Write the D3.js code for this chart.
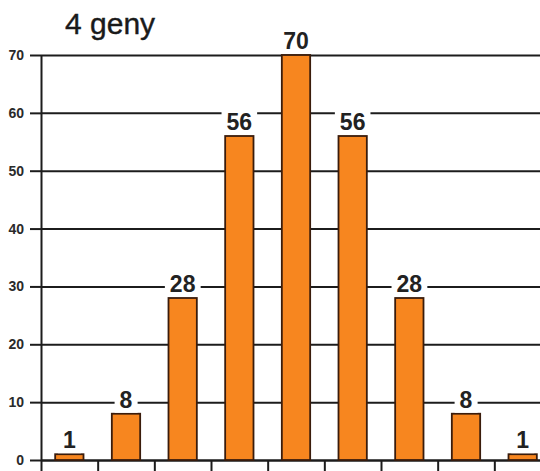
<!DOCTYPE html>
<html>
<head>
<meta charset="utf-8">
<script src="https://cdn.jsdelivr.net/npm/d3@7"></script>
<style>
  html, body { margin: 0; padding: 0; background: #fff; }
  svg { display: block; }
</style>
</head>
<body>
<svg id="chart" width="540" height="471"></svg>
<script>
// Number of dominant alleles (0–8) for four genes and the count of genotype combinations
const categories = ["0", "1", "2", "3", "4", "5", "6", "7", "8"];
const counts = [1, 8, 28, 56, 70, 56, 28, 8, 1];
const yTicks = [0, 10, 20, 30, 40, 50, 60, 70];
const title = "4 geny";

const svg = d3.select("#chart");
const plotLeft = 41, plotRight = 551, plotTop = 55, plotBottom = 460;

const x = d3.scaleBand()
  .domain(categories)
  .range([plotLeft, plotRight])
  .paddingInner(0.5)
  .paddingOuter(0.25);

const y = d3.scaleLinear().domain([0, 70]).range([plotBottom, plotTop]);

// boundaries between categories for the bottom tick marks
const xEdge = d3.scaleLinear().domain([0, categories.length]).range([plotLeft, plotRight]);

const ink = "#1c1c1c";

// horizontal grid lines
const grid = svg.append("g")
  .attr("transform", `translate(${plotLeft},0)`)
  .call(d3.axisLeft(y).tickValues(yTicks).tickSize(-(plotRight - plotLeft)).tickFormat(""));
grid.select(".domain").remove();
grid.selectAll("line").attr("stroke", ink).attr("stroke-width", 2);

// left axis with outward ticks and labels
const yAxis = svg.append("g")
  .attr("transform", `translate(${plotLeft},0)`)
  .call(d3.axisLeft(y).tickValues(yTicks).tickSize(11).tickSizeOuter(0).tickPadding(6));
yAxis.select(".domain").attr("stroke", ink).attr("stroke-width", 2);
yAxis.selectAll("line").attr("stroke", ink).attr("stroke-width", 2);
yAxis.selectAll("text")
  .attr("fill", "#2a2a2a")
  .style("font-family", "'Liberation Sans', Arial, sans-serif")
  .style("font-weight", "bold")
  .style("font-size", "14px");

// bottom axis: only tick marks at category boundaries
const xAxis = svg.append("g")
  .attr("transform", `translate(0,${plotBottom})`)
  .call(d3.axisBottom(xEdge).tickValues(d3.range(categories.length + 1)).tickSize(11).tickSizeOuter(0).tickFormat(""));
xAxis.select(".domain").attr("stroke", ink).attr("stroke-width", 2);
xAxis.selectAll("line").attr("stroke", ink).attr("stroke-width", 2);

// bars
svg.append("g")
  .selectAll("rect")
  .data(counts)
  .join("rect")
  .attr("x", (d, i) => x(categories[i]))
  .attr("y", d => y(d))
  .attr("width", x.bandwidth())
  .attr("height", d => plotBottom - y(d))
  .attr("fill", "#f7861f")
  .attr("stroke", "#3a1c0c")
  .attr("stroke-width", 1.8);

// value labels on white plates
const labels = svg.append("g")
  .selectAll("g")
  .data(counts)
  .join("g");

labels.append("text")
  .attr("x", (d, i) => x(categories[i]) + x.bandwidth() / 2)
  .attr("y", d => y(d) - 6)
  .attr("text-anchor", "middle")
  .attr("fill", "#222")
  .style("font-family", "'Liberation Sans', Arial, sans-serif")
  .style("font-weight", "bold")
  .style("font-size", "23px")
  .text(d => d);

labels.each(function () {
  const g = d3.select(this);
  const t = g.select("text");
  const bb = t.node().getBBox();
  const base = +t.attr("y");
  g.insert("rect", "text")
    .attr("x", bb.x - 5)
    .attr("y", base - 21)
    .attr("width", bb.width + 10)
    .attr("height", 26)
    .attr("fill", "#fff");
});

// title
svg.append("text")
  .attr("x", 65)
  .attr("y", 34)
  .attr("fill", "#1a1a1a")
  .style("font-family", "'Liberation Sans', Arial, sans-serif")
  .style("font-size", "30px")
  .style("stroke", "#1a1a1a")
  .style("stroke-width", "0.4px")
  .text(title);
</script>
</body>
</html>
